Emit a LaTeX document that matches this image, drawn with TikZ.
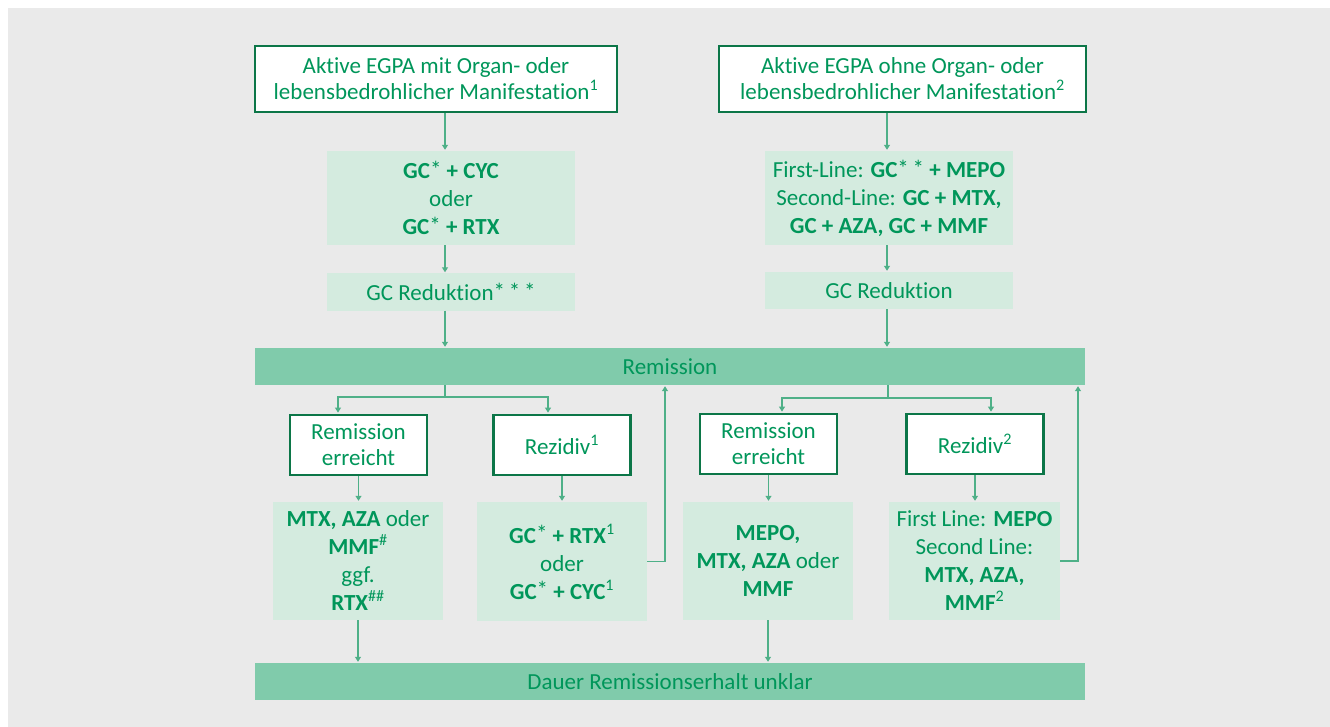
\documentclass[tikz,border=0pt]{standalone}
\usepackage{fontspec}
\setmainfont{Carlito}[Ligatures=NoCommon]
\usetikzlibrary{arrows.meta}
\definecolor{bgc}{HTML}{EAEAEA}
\definecolor{txt}{HTML}{00965A}
\definecolor{bord}{HTML}{0C7648}
\definecolor{lightg}{HTML}{D4EBDF}
\definecolor{barg}{HTML}{80CBAB}
\definecolor{lineg}{HTML}{4FB088}
\newcommand{\myup}[1]{\textsuperscript{#1}}
\newcommand{\myast}{{\mdseries\raisebox{0.05em}{*}}}
\begin{document}
\begin{tikzpicture}[x=1pt,y=-1pt,
  whitebox/.style={draw=bord, line width=2.8pt, fill=white, text=txt, align=center, inner sep=0pt, font=\fontsize{23}{26}\selectfont},
  greenbox/.style={fill=lightg, text=txt, align=center, inner sep=0pt, font=\fontsize{23}{28}\selectfont},
  barbox/.style={fill=barg, text=txt, align=center, inner sep=0pt, minimum width=830pt, minimum height=37pt, font=\fontsize{23}{26}\selectfont},
  ln/.style={draw=lineg, line width=1.1pt},
  arr/.style={draw=lineg, line width=1.1pt, -{Triangle[length=5pt,width=6pt]}, shorten >=1pt}
]
\useasboundingbox (0,0) rectangle (1330,727);
\fill[bgc] (8,8) rectangle (1330,727);

% top boxes
\node[whitebox, minimum width=362pt, minimum height=66pt] (top1) at (436,79)
  {Aktive EGPA mit Organ- oder\\lebensbedrohlicher Manifestation\myup{1}};
\node[whitebox, minimum width=367pt, minimum height=66pt] (top2) at (902.5,79)
  {Aktive EGPA ohne Organ- oder\\lebensbedrohlicher Manifestation\myup{2}};

% first treatment
\node[greenbox, minimum width=248pt, minimum height=94pt] (g1) at (451,198)
  {\textbf{GC}\myast{} \textbf{+ CYC}\\oder\\\textbf{GC}\myast{} \textbf{+ RTX}};
\node[greenbox, minimum width=248pt, minimum height=94pt] (g2) at (889,198)
  {First-Line: \textbf{GC}\myast\,\myast{} \textbf{+ MEPO}\\Second-Line: \textbf{GC + MTX,}\\\textbf{GC + AZA, GC + MMF}};

% reduction
\node[greenbox, minimum width=248pt, minimum height=37pt] (r1) at (451,292)
  {GC Reduktion\myast\,\myast\,\myast};
\node[greenbox, minimum width=248pt, minimum height=37pt] (r2) at (889,290.5)
  {GC Reduktion};

% bars
\node[barbox] (rem) at (670,366.5) {Remission};
\node[barbox] (dauer) at (670,681.5) {Dauer Remissionserhalt unklar};

% second row boxes
\node[whitebox, minimum width=137pt, minimum height=60pt] (b1) at (358.5,445) {Remission\\erreicht};
\node[whitebox, minimum width=137pt, minimum height=60pt] (b2) at (562,445) {Rezidiv\myup{1}};
\node[whitebox, minimum width=137pt, minimum height=60pt] (b3) at (768.5,444) {Remission\\erreicht};
\node[whitebox, minimum width=137pt, minimum height=60pt] (b4) at (975,444) {Rezidiv\myup{2}};

% third row
\node[greenbox, minimum width=170pt, minimum height=118pt] (c1) at (358,561)
  {\textbf{MTX, AZA} oder\\\textbf{MMF}\myup{\#}\\ggf.\\\textbf{RTX}\myup{\#\#}};
\node[greenbox, minimum width=170pt, minimum height=119pt] (c2) at (562,561.5)
  {\textbf{GC}\myast{} \textbf{+ RTX}\myup{1}\\oder\\\textbf{GC}\myast{} \textbf{+ CYC}\myup{1}};
\node[greenbox, minimum width=170pt, minimum height=118pt] (c3) at (768,561)
  {\textbf{MEPO,}\\\textbf{MTX, AZA} oder\\\textbf{MMF}};
\node[greenbox, minimum width=171pt, minimum height=118pt] (c4) at (974.5,561)
  {First Line: \textbf{MEPO}\\Second Line:\\\textbf{MTX, AZA,}\\\textbf{MMF}\myup{2}};

% helper coordinates
\coordinate (xL) at (445,0);
\coordinate (xR) at (887,0);
\coordinate (jL) at (445,397);
\coordinate (jR) at (888,398);
\coordinate (xa) at (338,0);
\coordinate (xb) at (548,0);
\coordinate (xc) at (782,0);
\coordinate (xd) at (991,0);
\coordinate (fb1) at (665,0);
\coordinate (fb2) at (1078,0);

% connectors top
\draw[arr] (top1.south -| xL) -- (g1.north -| xL);
\draw[arr] (g1.south -| xL) -- (r1.north -| xL);
\draw[arr] (r1.south -| xL) -- (rem.north -| xL);
\draw[arr] (top2.south -| xR) -- (g2.north -| xR);
\draw[arr] (g2.south -| xR) -- (r2.north -| xR);
\draw[arr] (r2.south -| xR) -- (rem.north -| xR);

% branches
\draw[ln] (rem.south -| jL) -- (jL);
\draw[arr] (jL) -| (b1.north -| xa);
\draw[arr] (jL) -| (b2.north -| xb);
\draw[ln] (rem.south -| jR) -- (jR);
\draw[arr] (jR) -| (b3.north -| xc);
\draw[arr] (jR) -| (b4.north -| xd);

% boxes to treatments
\draw[arr] (b1.south) -- (c1.north -| b1.south);
\draw[arr] (b2.south) -- (c2.north -| b2.south);
\draw[arr] (b3.south) -- (c3.north -| b3.south);
\draw[arr] (b4.south) -- (c4.north -| b4.south);

% to bottom bar
\draw[arr] (c1.south) -- (dauer.north -| c1.south);
\draw[arr] (c3.south) -- (dauer.north -| c3.south);

% feedback loops
\draw[arr] (c2.east) -| (rem.south -| fb1);
\draw[arr] (c4.east) -| (rem.south -| fb2);
\end{tikzpicture}
\end{document}
